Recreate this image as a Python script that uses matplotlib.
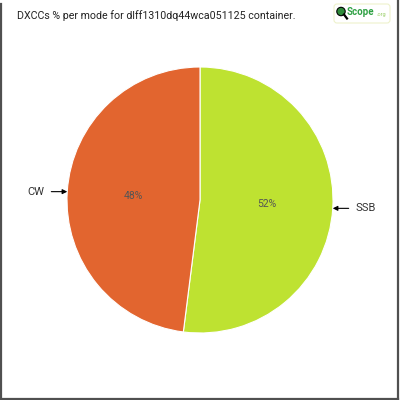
import matplotlib
matplotlib.use('Agg')
import matplotlib.pyplot as plt
import matplotlib.patches as patches
from matplotlib.lines import Line2D
import numpy as np

# data
modes = ['SSB', 'CW']
shares = [52, 48]
colors = ['#bee231', '#e2652f']
title = 'DXCCs % per mode for dlff1310dq44wca051125 container.'

plt.rcParams['font.family'] = ['Roboto', 'DejaVu Sans']

fig = plt.figure(figsize=(4, 4), dpi=100)
fig.patch.set_facecolor('white')

# frame (no top edge in the reference)
for xs, ys in [([0.002, 0.002], [0.0, 0.99]), ([0.996, 0.996], [0.0, 1.0]),
               ([0.002, 0.996], [0.003, 0.003])]:
    fig.add_artist(Line2D(xs, ys, color='#505050', lw=1.6, transform=fig.transFigure))

fig.text(17 / 400, 1 - 16 / 400, title, fontsize=7.7, color='#222222',
         ha='left', va='center')

# pie area: center (200,200) px, radius 133 px
ax = fig.add_axes([67 / 400, 67 / 400, 266 / 400, 266 / 400])
wedges, _, autotexts = ax.pie(shares, colors=colors, startangle=90, counterclock=False,
                              autopct='%d%%', pctdistance=0.5,
                              wedgeprops=dict(edgecolor='white', linewidth=0.8),
                              textprops=dict(fontsize=7.5, color='#555555'))
ax.set_xlim(-1, 1)
ax.set_ylim(-1, 1)
ax.set_aspect('equal')
ax.axis('off')

for w, name in zip(wedges, modes):
    mid = np.deg2rad((w.theta1 + w.theta2) / 2)
    x, y = np.cos(mid), np.sin(mid)
    ha = 'left' if x > 0 else 'right'
    ax.annotate(name, xy=(x, y), xytext=(1.17 * np.sign(x), y), ha=ha, va='center',
                fontsize=8, color='#333333', annotation_clip=False,
                arrowprops=dict(arrowstyle='-|>', color='black', lw=0.8,
                                shrinkA=3, shrinkB=0, mutation_scale=7))

# logo, top right
lax = fig.add_axes([333 / 400, 1 - 24 / 400, 58 / 400, 21 / 400])
lax.set_xlim(0, 58)
lax.set_ylim(0, 21)
lax.axis('off')
lax.add_patch(patches.FancyBboxPatch((1, 1), 56, 19, boxstyle='round,pad=0,rounding_size=3',
                                     fc='white', ec='#eef2cc', lw=0.8))
lax.add_patch(patches.Circle((8, 12.5), 4.2, fc='#2e8b3a', ec='black', lw=0.8))
lax.plot([11, 14], [9.5, 5.5], color='black', lw=1.6)
lax.text(14, 12, 'Scope', color='#2ea043', fontsize=7, fontweight='bold',
         ha='left', va='center')
lax.text(43.5, 9.5, '.org', color='#9bcf6a', fontsize=4, ha='left', va='center')

fig.savefig('out.png', dpi=100, facecolor='white')
